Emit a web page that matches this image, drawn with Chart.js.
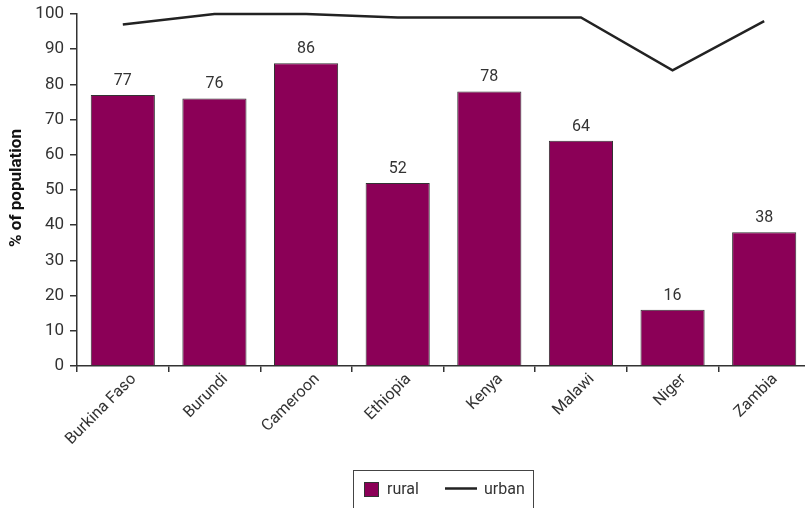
<!DOCTYPE html>
<html><head><meta charset="utf-8">
<script src="https://cdn.jsdelivr.net/npm/chart.js@4"></script>
<style>html,body{margin:0;padding:0;overflow:hidden;background:#fff;width:805px;height:508px}
#wrap{position:absolute;left:0;top:0;width:810px;height:508px}</style>
</head><body><div id="wrap"><canvas id="c" width="810" height="508"></canvas></div>
<script>
const categories = ["Burkina Faso","Burundi","Cameroon","Ethiopia","Kenya","Malawi","Niger","Zambia"];
const rural = [77,76,86,52,78,64,16,38];
const urban = [97,100,100,99,99,99,84,98];
const yTicks = [0,10,20,30,40,50,60,70,80,90,100];

const FONT = "'Liberation Sans Narrow','Roboto',sans-serif";
const TXT = '#333';
const BAR = '#8B0057';

const labelsPlugin = {
  id:'labels',
  afterDatasetsDraw(chart){
    const ctx = chart.ctx;
    const meta = chart.getDatasetMeta(1);
    ctx.save();
    ctx.font = '16px ' + FONT;
    ctx.fillStyle = TXT;
    ctx.textAlign = 'center';
    ctx.textBaseline = 'bottom';
    meta.data.forEach((b,i)=>{ ctx.fillText(String(rural[i]), b.x, b.y - 6); });
    ctx.restore();
  },
  afterDraw(chart){
    const ctx = chart.ctx;
    ctx.save();
    // legend box
    ctx.strokeStyle = '#444'; ctx.lineWidth = 1;
    ctx.strokeRect(353.5, 470.5, 180, 45);
    ctx.fillStyle = BAR; ctx.fillRect(364, 482, 15, 15);
    ctx.strokeStyle = '#333'; ctx.strokeRect(364.5, 482.5, 14, 14);
    ctx.font = '16px ' + FONT; ctx.fillStyle = TXT; ctx.textBaseline='middle'; ctx.textAlign='left';
    ctx.fillText(chart.data.datasets[1].label, 387, 490);
    ctx.strokeStyle = '#222'; ctx.lineWidth = 2.5;
    ctx.beginPath(); ctx.moveTo(445, 488.5); ctx.lineTo(477, 488.5); ctx.stroke();
    ctx.fillText(chart.data.datasets[0].label, 484, 490);
    // y title
    ctx.font = 'bold 17px ' + FONT; ctx.fillStyle = '#111'; ctx.textAlign='center';
    ctx.translate(17, 188); ctx.rotate(-Math.PI/2);
    ctx.fillText('% of population', 0, 0);
    ctx.restore();
  }
};

new Chart(document.getElementById('c'), {
  data:{
    labels: categories,
    datasets:[
      {type:'line', label:'urban', data:urban, borderColor:'#222', borderWidth:2.5, pointRadius:0, tension:0, order:0, clip:4},
      {type:'bar', label:'rural', data:rural, backgroundColor:BAR, borderColor:'#333', borderWidth:1, barPercentage:0.7, categoryPercentage:1, order:1}
    ]
  },
  options:{
    responsive:false, animation:false, devicePixelRatio:1,
    layout:{padding:{top:14,left:0,right:0,bottom:0}},
    plugins:{legend:{display:false}, tooltip:{enabled:false}},
    scales:{
      x:{
        offset:true,
        grid:{offset:true, drawOnChartArea:false, color:'#333', tickLength:6, lineWidth:1.5},
        border:{color:'#333', width:1.5},
        ticks:{font:{family:FONT,size:16}, color:TXT, minRotation:45, maxRotation:45, padding:-2, labelOffset:11},
        afterFit(s){ s.height = 142; s.paddingLeft = 0; s.paddingRight = 0; }
      },
      y:{
        min:0, max:100,
        afterBuildTicks(s){ s.ticks = yTicks.map(v=>({value:v})); },
        grid:{drawOnChartArea:false, color:'#333', tickLength:7, lineWidth:1.5},
        border:{color:'#333', width:1.5},
        ticks:{font:{family:FONT,size:17}, color:TXT, padding:6},
        afterFit(s){ s.width = 77; s.paddingTop = 0; s.paddingBottom = 0; }
      }
    }
  },
  plugins:[labelsPlugin]
});
</script></body></html>
